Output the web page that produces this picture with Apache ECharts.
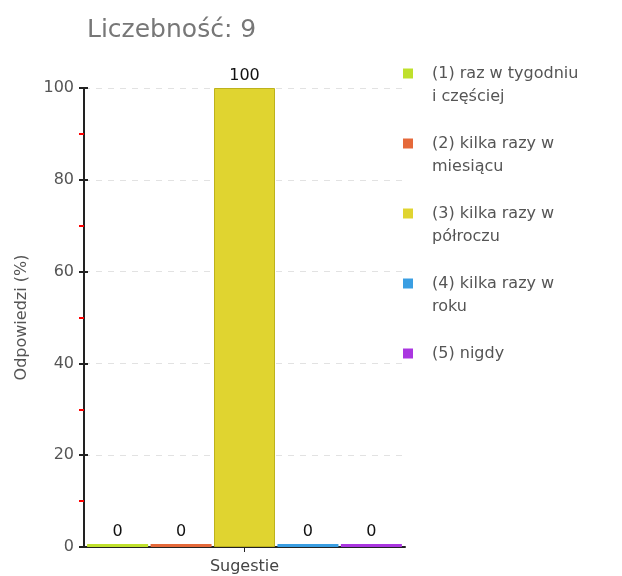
<!DOCTYPE html>
<html>
<head>
<meta charset="utf-8">
<script src="https://cdn.jsdelivr.net/npm/echarts@6/dist/echarts.min.js"></script>
<style>
  html, body { margin: 0; padding: 0; background: #fff; }
  #chart { width: 622px; height: 576px; }
</style>
</head>
<body>
<div id="chart"></div>
<script>
const titleText = "Liczebność: 9"
const categories = ["Sugestie"]
const seriesNames = ["(1) raz w tygodniu i częściej", "(2) kilka razy w miesiącu", "(3) kilka razy w półroczu", "(4) kilka razy w roku", "(5) nigdy"]
// legend text as it is wrapped in the picture
const legendLines = [["(1) raz w tygodniu", "i częściej"], ["(2) kilka razy w", "miesiącu"], ["(3) kilka razy w", "półroczu"], ["(4) kilka razy w", "roku"], ["(5) nigdy"]]
const seriesValues = [[0], [0], [100], [0], [0]]
const colors = ["#bfe02c", "#e5693a", "#e0d430", "#3a9ee2", "#aa36e0"]
const yTicks = [0, 20, 40, 60, 80, 100]

const FONT = "DejaVu Sans"
const LINE = 23

const chart = echarts.init(document.getElementById("chart"))

const series = seriesNames.map((name, i) => ({
  name,
  type: "bar",
  data: seriesValues[i],
  barWidth: 61,
  barGap: "4%",
  barMinHeight: 3,
  itemStyle: {
    color: colors[i],
    borderColor: seriesValues[i][0] > 0 ? "#bdb21c" : colors[i],
    borderWidth: seriesValues[i][0] > 0 ? 1 : 0
  },
  label: {
    show: true, position: "top", distance: 4,
    fontFamily: FONT, fontSize: 16, color: "#111"
  }
}))

// the legend icon sits in the middle of the text block, so an empty line is put
// above (and, if needed, below) to keep it level with the first line
function legendText(lines) {
  const below = lines.length > 1 ? lines.slice(1) : [" "]
  return ["", lines[0], ...below].join("\n")
}

const option = {
  animation: false,
  textStyle: { fontFamily: FONT },
  title: {
    text: titleText,
    left: 82, top: 13,
    textStyle: { fontFamily: FONT, fontSize: 25, fontWeight: "normal", color: "#777" }
  },
  legend: {
    orient: "vertical",
    left: 398, top: 34,
    itemWidth: 10, itemHeight: 10,
    itemGap: 1,
    icon: "rect",
    selectedMode: false,
    itemStyle: { borderWidth: 0 },
    formatter: name => legendText(legendLines[seriesNames.indexOf(name)]),
    textStyle: { fontFamily: FONT, fontSize: 16, color: "#555", lineHeight: LINE, padding: [0, 0, 0, 14] }
  },
  grid: { left: 84, top: 88, width: 321, height: 459, containLabel: false },
  xAxis: {
    type: "category",
    data: categories,
    axisLine: { lineStyle: { color: "#222", width: 2 } },
    axisTick: { show: true, alignWithLabel: true, length: 5, lineStyle: { color: "#222" } },
    axisLabel: { fontFamily: FONT, fontSize: 16, color: "#444", margin: 12 }
  },
  yAxis: [
    {
      type: "value",
      min: yTicks[0], max: yTicks[yTicks.length - 1], interval: 20,
      name: "Odpowiedzi (%)",
      nameLocation: "middle",
      nameGap: 54,
      nameTextStyle: { fontFamily: FONT, fontSize: 16, color: "#555" },
      axisLine: { show: true, lineStyle: { color: "#222", width: 2 } },
      axisTick: { show: true, length: 5, lineStyle: { color: "#222", width: 2 } },
      minorTick: { show: true, splitNumber: 2, length: 5, lineStyle: { color: "#f00", width: 2 } },
      axisLabel: { fontFamily: FONT, fontSize: 16, color: "#555", margin: 10 },
      splitLine: { show: true, lineStyle: { color: "#e2e2e2", type: [6, 6], width: 1 } }
    },
    {
      // same scale again, only to draw the inner half of the major ticks
      type: "value", position: "left",
      min: yTicks[0], max: yTicks[yTicks.length - 1], interval: 20,
      axisLine: { show: false },
      axisTick: { show: true, inside: true, length: 4, lineStyle: { color: "#222", width: 2 } },
      axisLabel: { show: false },
      splitLine: { show: false }
    }
  ],
  series
}

chart.setOption(option)
</script>
</body>
</html>
